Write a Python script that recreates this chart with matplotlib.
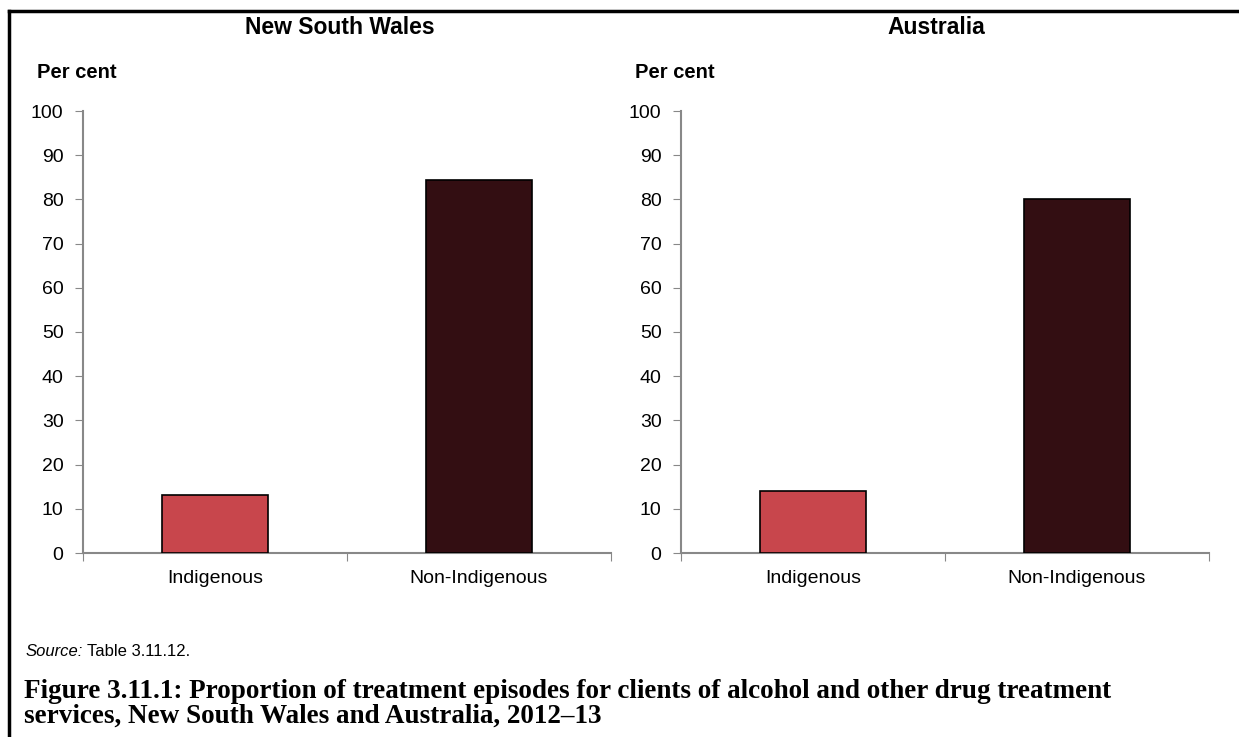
import matplotlib.pyplot as plt
from matplotlib.lines import Line2D

categories = ["Indigenous", "Non-Indigenous"]
nsw_values = [13.2, 84.5]
aus_values = [14.0, 80.1]
bar_colors = ["#C8464C", "#330E12"]
yticks = [0, 10, 20, 30, 40, 50, 60, 70, 80, 90, 100]

plt.rcParams["font.family"] = ["Liberation Sans", "DejaVu Sans"]

W, H = 1239, 737
fig = plt.figure(figsize=(W / 100, H / 100), dpi=100)


def panel(left, values, title, title_x, percent_x):
    ax = fig.add_axes([left / W, (H - 553) / H, 528 / W, 442 / H])
    ax.bar(range(len(categories)), values, width=0.4, color=bar_colors,
           edgecolor="black", linewidth=1.2, zorder=3)
    ax.set_xlim(-0.5, len(categories) - 0.5)
    ax.set_ylim(0, 100)
    ax.set_yticks(yticks)
    ax.set_yticklabels([str(t) for t in yticks], fontsize=14)
    ax.set_xticks([-0.5, 0.5, 1.5])
    ax.set_xticklabels([])
    ax.set_xticks(range(len(categories)), minor=True)
    ax.set_xticklabels(categories, minor=True, fontsize=14)
    ax.tick_params(axis="x", which="minor", length=0, pad=12)
    ax.tick_params(axis="x", which="major", length=6, color="#888888", direction="out")
    ax.tick_params(axis="y", length=6, color="#888888", direction="out", pad=8)
    for s in ["top", "right"]:
        ax.spines[s].set_visible(False)
    for s in ["left", "bottom"]:
        ax.spines[s].set_color("#888888")
        ax.spines[s].set_linewidth(1.5)
    fig.text(title_x / W, 1 - 28 / H, title, ha="center", va="center",
             fontsize=16.5, fontweight="bold")
    fig.text(percent_x / W, 1 - 72 / H, "Per cent", ha="left", va="center",
             fontsize=14.5, fontweight="bold")
    return ax


panel(83, nsw_values, "New South Wales", 340, 37)
panel(681, aus_values, "Australia", 936, 635)

# outer frame (top and left edges)
fig.add_artist(Line2D([9 / W, 1], [1 - 11 / H, 1 - 11 / H], color="black", lw=2.5))
fig.add_artist(Line2D([9 / W, 9 / W], [0, 1 - 11 / H], color="black", lw=2.5))

src = fig.text(26 / W, 1 - 652 / H, "Source:", style="italic", fontsize=12, va="center")
fig.canvas.draw()
ext = src.get_window_extent()
fig.text((ext.x1 + 4) / W, 1 - 652 / H, "Table 3.11.12.", fontsize=12, va="center")

cap_font = ["Liberation Serif", "DejaVu Serif"]
fig.text(24 / W, 1 - 691 / H,
         "Figure 3.11.1: Proportion of treatment episodes for clients of alcohol and other drug treatment",
         family=cap_font, fontweight="bold", fontsize=19.5, va="center")
fig.text(24 / W, 1 - 716 / H,
         "services, New South Wales and Australia, 2012\u201313",
         family=cap_font, fontweight="bold", fontsize=19.5, va="center")

fig.savefig("out.png", dpi=100, facecolor="white")
